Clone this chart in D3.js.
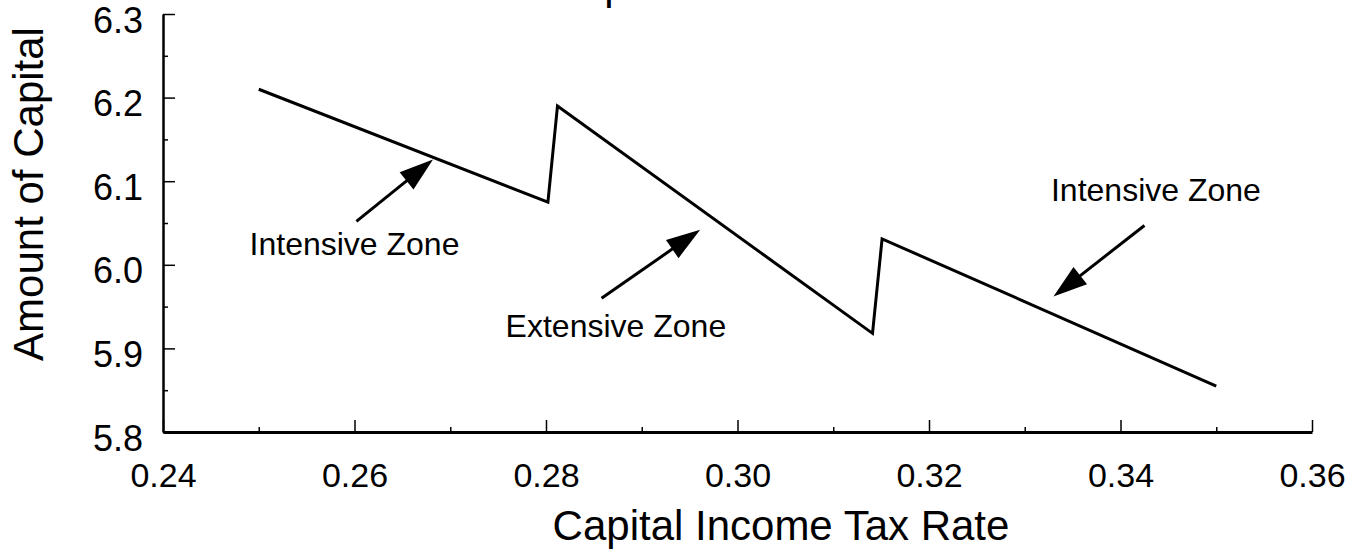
<!DOCTYPE html>
<html lang="en">
<head>
<meta charset="UTF-8">
<script src="https://cdnjs.cloudflare.com/ajax/libs/d3/7.8.5/d3.min.js"></script>
<style>
    body { margin: 0; background: #fff; }
    svg text { font-family: "Liberation Sans", Arial, Helvetica, sans-serif; fill: #000; }
</style>
</head>
<body>
<div id="chart"></div>
<script>
    // capital vs. tax rate
    var taxRate = [0.25, 0.2802, 0.2812, 0.3141, 0.3151, 0.35];
    var capital = [6.21, 6.075, 6.19, 5.918, 6.031, 5.855];

    var xTicks = [0.24, 0.26, 0.28, 0.30, 0.32, 0.34, 0.36];
    var xMinor = [0.25, 0.27, 0.29, 0.31, 0.33, 0.35];
    var yTicks = [5.8, 5.9, 6.0, 6.1, 6.2, 6.3];
    var yMinor = [5.85, 5.95, 6.05, 6.15, 6.25];

    // zone annotations, in data units
    var zoneLabels = ["Intensive Zone", "Extensive Zone", "Intensive Zone"];
    var labelX = [0.2600, 0.2873, 0.3437];
    var labelY = [6.0115, 5.914, 6.076];
    var arrowFromX = [0.2602, 0.2858, 0.3425];
    var arrowFromY = [6.052, 5.960, 6.047];
    var arrowToX = [0.2682, 0.2961, 0.3330];
    var arrowToY = [6.126, 6.042, 5.962];

    var width = 1361, height = 552;
    var margin = {top: 14, right: 49, bottom: 120, left: 163};

    var svg = d3.select("#chart").append("svg")
        .attr("width", width)
        .attr("height", height);

    var x = d3.scaleLinear().domain([0.24, 0.36]).range([margin.left, width - margin.right]);
    var y = d3.scaleLinear().domain([5.8, 6.3]).range([height - margin.bottom, margin.top]);

    // cut-off title remnant at the very top
    svg.append("text")
        .attr("x", 616).attr("y", -1)
        .attr("text-anchor", "middle")
        .style("font-size", "42px")
        .text("p");

    // minor ticks
    svg.append("g")
        .attr("transform", "translate(0," + y(5.8) + ")")
        .call(d3.axisBottom(x).tickValues(xMinor).tickSizeInner(-5).tickSizeOuter(0).tickFormat(""))
        .call(function (g) { g.select(".domain").remove(); });
    svg.append("g")
        .attr("transform", "translate(" + x(0.24) + ",0)")
        .call(d3.axisLeft(y).tickValues(yMinor).tickSizeInner(-5).tickSizeOuter(0).tickFormat(""))
        .call(function (g) { g.select(".domain").remove(); });

    // main axes
    var xAxis = svg.append("g")
        .attr("transform", "translate(0," + y(5.8) + ")")
        .call(d3.axisBottom(x).tickValues(xTicks).tickSizeInner(-12).tickSizeOuter(0)
            .tickPadding(31).tickFormat(d3.format(".2f")));
    var yAxis = svg.append("g")
        .attr("transform", "translate(" + x(0.24) + ",0)")
        .call(d3.axisLeft(y).tickValues(yTicks).tickSizeInner(-12).tickSizeOuter(0)
            .tickPadding(20).tickFormat(d3.format(".1f")));

    svg.selectAll(".tick line").attr("stroke", "#000").attr("stroke-width", 1.5);
    xAxis.select(".domain").attr("stroke", "#000").attr("stroke-width", 3);
    yAxis.select(".domain").attr("stroke", "#000").attr("stroke-width", 2.5);
    xAxis.selectAll("text").style("font-size", "34px").attr("fill", "#000").attr("dy", "0.72em");
    yAxis.selectAll("text").style("font-size", "36px").attr("fill", "#000").attr("dy", "0.5em");

    // axis titles
    svg.append("text")
        .attr("x", 781).attr("y", 540)
        .attr("text-anchor", "middle")
        .style("font-size", "42px")
        .text("Capital Income Tax Rate");
    svg.append("text")
        .attr("transform", "translate(43,194) rotate(-90)")
        .attr("text-anchor", "middle")
        .style("font-size", "42px")
        .text("Amount of Capital");

    // the curve
    var pts = taxRate.map(function (t, i) { return [t, capital[i]]; });
    var line = d3.line()
        .x(function (d) { return x(d[0]); })
        .y(function (d) { return y(d[1]); });
    svg.append("path")
        .datum(pts)
        .attr("d", line)
        .attr("fill", "none")
        .attr("stroke", "#000")
        .attr("stroke-width", 3)
        .attr("stroke-linejoin", "miter");

    // annotations
    var headLen = 34, headHalf = 11;
    zoneLabels.forEach(function (lbl, i) {
        var x0 = x(arrowFromX[i]), y0 = y(arrowFromY[i]);
        var x1 = x(arrowToX[i]), y1 = y(arrowToY[i]);
        var dx = x1 - x0, dy = y1 - y0, len = Math.sqrt(dx * dx + dy * dy);
        var ux = dx / len, uy = dy / len;
        var bx = x1 - ux * headLen, by = y1 - uy * headLen;

        svg.append("line")
            .attr("x1", x0).attr("y1", y0)
            .attr("x2", bx + ux * 4).attr("y2", by + uy * 4)
            .attr("stroke", "#000")
            .attr("stroke-width", 3);
        svg.append("path")
            .attr("d", "M" + x1 + "," + y1 +
                "L" + (bx - uy * headHalf) + "," + (by + ux * headHalf) +
                "L" + (bx + uy * headHalf) + "," + (by - ux * headHalf) + "Z")
            .attr("fill", "#000");

        svg.append("text")
            .attr("x", x(labelX[i])).attr("y", y(labelY[i]))
            .attr("text-anchor", "middle")
            .style("font-size", "32px")
            .text(lbl);
    });
</script>
</body>
</html>
